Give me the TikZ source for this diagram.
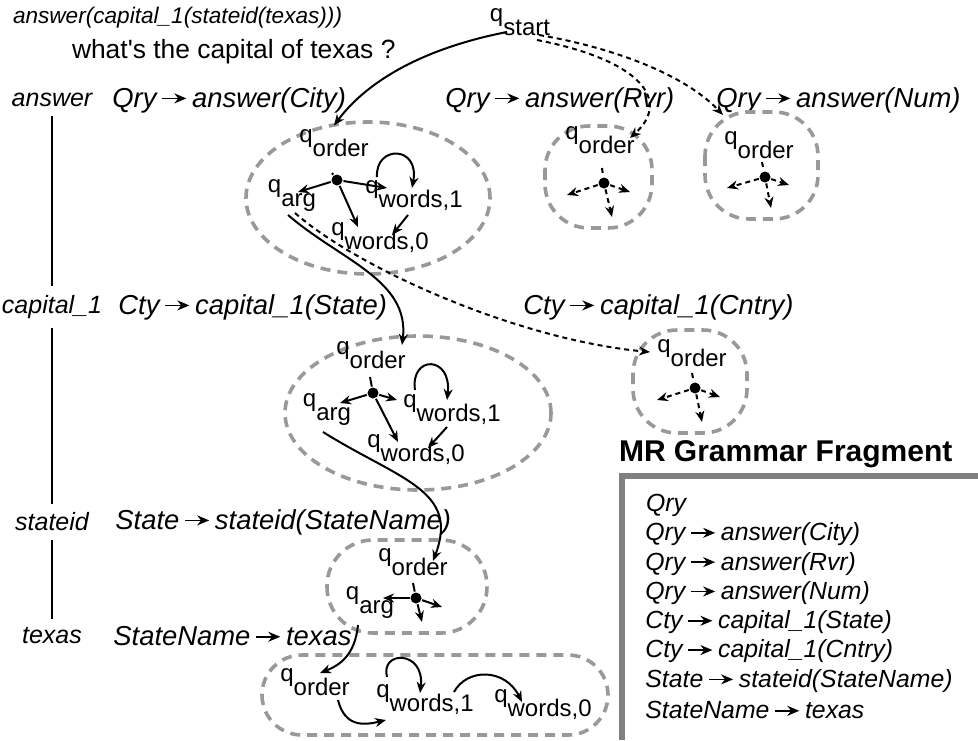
\documentclass[tikz,border=0pt]{standalone}
\usepackage{fontspec}
\setmainfont{Liberation Sans}
\usetikzlibrary{arrows.meta}

\newcommand{\prodarrow}{\hspace{2.5pt}\tikz[baseline=-0.6ex]\draw[line width=0.8pt,-{Stealth[length=6pt,width=5pt]}] (0pt,0pt) -- (12pt,0pt);\hspace{2.5pt}}
\newcommand{\qsub}[1]{q\raisebox{-7pt}{#1}}

\begin{document}
\begin{tikzpicture}[x=0.5pt,y=-0.5pt,line width=1pt,>={Stealth[length=5.5pt,width=4.5pt]},
  rule/.style={anchor=west,inner sep=0pt,font=\fontsize{13.7}{16}\selectfont\itshape},
  lbl/.style={inner sep=4pt,font=\fontsize{12.5}{15}\selectfont\itshape},
  st/.style={inner sep=1.5pt,font=\fontsize{12}{14}\selectfont},
  dot/.style={circle,fill,inner sep=0pt,minimum size=5.5pt},
  blob/.style={draw=black!40,line width=1.8pt,dash pattern=on 5pt off 3.5pt},
  dsh/.style={dash pattern=on 2.5pt off 2pt},
  gline/.style={anchor=west,inner sep=0pt,font=\fontsize{12.4}{14}\selectfont\itshape}]
\useasboundingbox (0,0) rectangle (978,740);

% ---- sentence and meaning representation
\node[anchor=west,inner sep=0pt,font=\fontsize{11.3}{13}\selectfont\itshape] (mrl) at (12,18) {answer(capital\_1(stateid(texas)))};
\node[anchor=west,inner sep=0pt,font=\fontsize{13.2}{15}\selectfont] (nls) at (71,52) {what\textquotesingle s the capital of texas ?};
\node[st] (qstart) at (520,22) {\qsub{start}};

% ---- MR tree on the left
\node[lbl] (lans) at (52,100) {answer};
\node[lbl] (lcap) at (52,307) {capital\_1};
\node[lbl] (lsid) at (52,522) {stateid};
\node[lbl] (ltex) at (52,636) {texas};
\draw (lans) -- (lcap);
\draw (lcap) -- (lsid);
\draw (lsid) -- (ltex);

% ---- productions
\node[rule] (rcity) at (112,100) {Qry\prodarrow answer(City)};
\node[rule] (rrvr) at (445,100) {Qry\prodarrow answer(Rvr)};
\node[rule] (rnum) at (716,100) {Qry\prodarrow answer(Num)};
\node[rule] (rstate) at (118,307) {Cty\prodarrow capital\_1(State)};
\node[rule] (rcntry) at (523,307) {Cty\prodarrow capital\_1(Cntry)};
\node[rule] (rsid) at (115,522) {State\prodarrow stateid(StateName)};
\node[rule] (rtex) at (113,636) {StateName\prodarrow texas};

% ---- automaton regions
\draw[blob] (368,198) ellipse [x radius=61pt,y radius=38pt];
\draw[blob,rounded corners=22pt] (545,126) rectangle (652,228);
\draw[blob,rounded corners=22pt] (705,112) rectangle (818,219);
\draw[blob] (418,413) ellipse [x radius=66.5pt,y radius=38.5pt];
\draw[blob,rounded corners=22pt] (633,330) rectangle (747,433);
\draw[blob,rounded corners=23pt] (327,540) rectangle (487,633);
\draw[blob,rounded corners=20pt] (262,655) rectangle (608,735);

% ---- answer(City)
\node[st] (qo1) at (334,143) {\qsub{order}};
\node[dot] (d1) at (337,180) {};
\node[st] (qa1) at (292,196) {\qsub{arg}};
\node[st] (qw11) at (414,196) {\qsub{words,1}};
\node[st] (qw01) at (380,238) {\qsub{words,0}};
\draw ([shift={(-1pt,-15pt)}]qo1.center) -- (d1);
\draw[->] (d1) -- ([shift={(3pt,2pt)}]qa1.center);
\draw[->] (d1) -- ([shift={(-13.5pt,4pt)}]qw11.center);
\draw[->] (d1) -- ([shift={(-11pt,5.5pt)}]qw01.center);
\draw[->] ([shift={(-18.5pt,9.5pt)}]qw11.center) .. controls (375,145) and (420,145) .. ([shift={(-1pt,4pt)}]qw11.center);
\draw[->] ([shift={(-3pt,-9.5pt)}]qw11.center) -- ([shift={(6pt,1.5pt)}]qw01.center);

% ---- answer(Rvr)
\node[st] (qo2) at (600,140) {\qsub{order}};
\node[dot] (d2) at (604,183) {};
\coordinate (e2l) at (567,195);
\coordinate (e2r) at (630,192);
\coordinate (e2d) at (612,217);
\draw[dsh] (602,168) -- (d2);
\draw[dsh,->] (d2) -- (e2l);
\draw[dsh,->] (d2) -- (e2r);
\draw[dsh,->] (d2) -- (e2d);

% ---- answer(Num)
\node[st] (qo3) at (759,145) {\qsub{order}};
\node[dot] (d3) at (765,177) {};
\coordinate (e3l) at (727,188);
\coordinate (e3r) at (789,185);
\coordinate (e3d) at (771,208);
\draw[dsh] (762,162) -- (d3);
\draw[dsh,->] (d3) -- (e3l);
\draw[dsh,->] (d3) -- (e3r);
\draw[dsh,->] (d3) -- (e3d);

% ---- capital_1(State)
\node[st] (qo4) at (371,355) {\qsub{order}};
\node[dot] (d4) at (373,393) {};
\node[st] (qa4) at (327,410) {\qsub{arg}};
\node[st] (qw14) at (452,410) {\qsub{words,1}};
\node[st] (qw04) at (416,450) {\qsub{words,0}};
\draw (370,377) -- (d4);
\draw[->] (d4) -- ([shift={(6.5pt,3.5pt)}]qa4.center);
\draw[->] (d4) -- ([shift={(-27.5pt,5pt)}]qw14.center);
\draw[->] (d4) -- ([shift={(-9pt,4pt)}]qw04.center);
\draw[->] ([shift={(-18.5pt,10pt)}]qw14.center) .. controls (410,355) and (452,355) .. ([shift={(-2.5pt,5pt)}]qw14.center);
\draw[->] ([shift={(-2.5pt,-8.5pt)}]qw14.center) -- ([shift={(6pt,1pt)}]qw04.center);

% ---- capital_1(Cntry)
\node[st] (qo5) at (692,353) {\qsub{order}};
\node[dot] (d5) at (695,388) {};
\coordinate (e5l) at (657,400);
\coordinate (e5r) at (720,397);
\coordinate (e5d) at (702,422);
\draw[dsh] (692,373) -- (d5);
\draw[dsh,->] (d5) -- (e5l);
\draw[dsh,->] (d5) -- (e5r);
\draw[dsh,->] (d5) -- (e5d);

% ---- stateid(StateName)
\node[st] (qo6) at (413,562) {\qsub{order}};
\node[dot] (d6) at (416,598) {};
\node[st] (qa6) at (370,603) {\qsub{arg}};
\coordinate (e6r) at (442,607);
\coordinate (e6d) at (422,622);
\draw (413,583) -- (d6);
\draw[->] (d6) -- ([shift={(6.5pt,2.5pt)}]qa6.center);
\draw[->] (d6) -- (e6r);
\draw[->] (d6) -- (e6d);

% ---- texas
\node[st] (qo7) at (315,682) {\qsub{order}};
\node[st] (qw17) at (425,700) {\qsub{words,1}};
\node[st] (qw07) at (543,705) {\qsub{words,0}};
\draw[->] ([shift={(11.5pt,-9pt)}]qo7.center) .. controls (345,728) and (365,725) .. ([shift={(-19.5pt,-10pt)}]qw17.center);
\draw[->] ([shift={(-19pt,11.5pt)}]qw17.center) .. controls (380,650) and (425,650) .. ([shift={(-2.5pt,3.5pt)}]qw17.center);
\draw[->] ([shift={(14.5pt,4pt)}]qw17.center) .. controls (467,668) and (505,668) .. ([shift={(-10.5pt,1.5pt)}]qw07.center);

% ---- links between regions
\draw[->] ([shift={(-6.5pt,-5pt)}]qstart.center) .. controls (425,48) and (368,80) .. (qo1.north);
\draw[dsh,->] ([shift={(8.5pt,-9pt)}]qstart.center) .. controls (640,60) and (672,100) .. ([shift={(15pt,1pt)}]qo2.center);
\draw[dsh,->] ([shift={(9.5pt,-6.5pt)}]qstart.center) .. controls (615,48) and (685,75) .. ([shift={(-18pt,15pt)}]qo3.center);
\draw[->] ([shift={(-2pt,-9.5pt)}]qa1.center) .. controls (340,260) and (410,280) .. ([shift={(15.5pt,5pt)}]qo4.center);
\draw[dsh,->] ([shift={(1.5pt,-8.5pt)}]qa1.center) .. controls (360,270) and (520,340) .. ([shift={(-21pt,0.5pt)}]qo5.center);
\draw[->] ([shift={(-2pt,-11pt)}]qa4.center) .. controls (400,480) and (460,490) .. ([shift={(10pt,0.5pt)}]qo6.center);
\draw[->] ([shift={(-6pt,-11pt)}]qa6.center) .. controls (355,655) and (340,665) .. ([shift={(2.5pt,4.5pt)}]qo7.center);

% ---- grammar fragment
\node[anchor=west,inner sep=0pt,font=\bfseries\fontsize{15}{17}\selectfont] (mrtitle) at (618,454) {MR Grammar Fragment};
\draw[black!50,line width=2.6pt] (978,476) -- (622,476) -- (622,740);
\foreach \txt [count=\i] in {Qry, Qry\prodarrow answer(City), Qry\prodarrow answer(Rvr), Qry\prodarrow answer(Num), Cty\prodarrow capital\_1(State), Cty\prodarrow capital\_1(Cntry), State\prodarrow stateid(StateName), StateName\prodarrow texas}
  \node[gline] (g\i) at (645,{505+29.3*(\i-1)}) {\txt};
\end{tikzpicture}
\end{document}
